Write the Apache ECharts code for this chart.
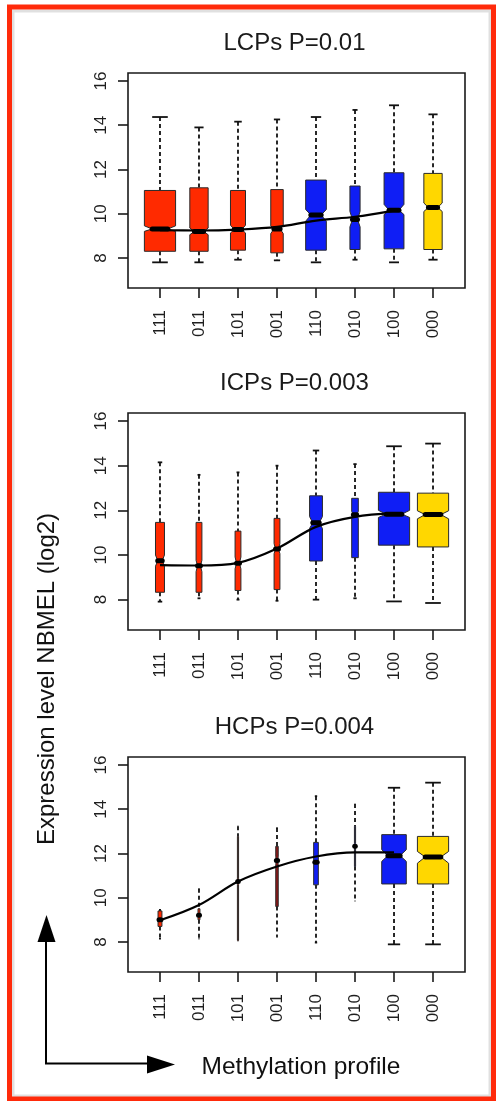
<!DOCTYPE html>
<html><head><meta charset="utf-8">
<script src="https://cdn.jsdelivr.net/npm/echarts@6/dist/echarts.min.js"></script>
<style>html,body{margin:0;padding:0;background:#fff}#c{width:496px;height:1101px}</style>
</head><body><div id="c"></div>
<script>
// ---------------- data ----------------
const categories = ["111","011","101","001","110","010","100","000"];
const yTicks = [8, 10, 12, 14, 16];
const panelTitles = ["LCPs P=0.01", "ICPs P=0.003", "HCPs P=0.004"];

// LCPs
const lcpWhiskerLow  = [7.80, 7.80, 7.92, 7.89, 7.80, 7.92, 7.80, 7.92];
const lcpQ1          = [8.30, 8.30, 8.35, 8.23, 8.35, 8.38, 8.41, 8.38];
const lcpNotchLow    = [9.20, 9.05, 9.13, 9.10, 9.66, 9.40, 9.96, 10.10];
const lcpMedian      = [9.31, 9.19, 9.28, 9.31, 9.94, 9.74, 10.16, 10.28];
const lcpNotchHigh   = [9.45, 9.35, 9.48, 9.45, 10.19, 10.10, 10.42, 10.48];
const lcpQ3          = [11.05, 11.17, 11.05, 11.09, 11.52, 11.25, 11.85, 11.82];
const lcpWhiskerHigh = [14.37, 13.90, 14.16, 14.26, 14.37, 14.69, 14.90, 14.49];
const lcpRelSize     = [1, 0.345, 0.232, 0.16, 0.439, 0.106, 0.406, 0.345];
const lcpTrend       = [9.25, 9.24, 9.28, 9.40, 9.69, 9.86, 10.14];

// ICPs
const icpWhiskerLow  = [7.91, 8.06, 8.00, 7.95, 8.00, 8.06, 7.92, 7.85];
const icpQ1          = [8.33, 8.33, 8.41, 8.45, 9.73, 9.88, 10.44, 10.36];
const icpNotchLow    = [9.50, 9.25, 9.38, 10.06, 11.19, 11.64, 11.68, 11.62];
const icpMedian      = [9.74, 9.52, 9.63, 10.27, 11.44, 11.80, 11.83, 11.81];
const icpNotchHigh   = [10.00, 9.76, 9.91, 10.51, 11.72, 11.95, 12.00, 11.98];
const icpQ3          = [11.46, 11.46, 11.07, 11.64, 12.65, 12.54, 12.81, 12.77];
const icpWhiskerHigh = [14.15, 13.59, 13.70, 14.00, 14.68, 14.07, 14.87, 14.99];
const icpRelSize     = [0.083, 0.035, 0.035, 0.035, 0.17, 0.045, 1, 1];
const icpTrend       = [9.55, 9.53, 9.65, 10.29, 11.26, 11.71, 11.86];

// HCPs
const hcpWhiskerLow  = [8.15, 8.15, 8.05, 8.23, 7.97, 9.85, 7.89, 7.89];
const hcpQ1          = [8.70, 9.00, 8.08, 9.60, 10.58, 11.41, 10.62, 10.62];
const hcpNotchLow    = [8.90, 9.10, 10.60, 11.50, 11.50, 12.20, 11.64, 11.56];
const hcpMedian      = [9.00, 9.20, 10.73, 11.68, 11.60, 12.32, 11.90, 11.84];
const hcpNotchHigh   = [9.10, 9.30, 10.85, 11.85, 11.70, 12.45, 12.17, 12.09];
const hcpQ3          = [9.40, 9.50, 12.77, 12.32, 12.50, 13.23, 12.85, 12.77];
const hcpWhiskerHigh = [9.45, 10.40, 13.23, 13.15, 14.59, 14.24, 14.97, 15.20];
const hcpRelSize     = [0.0156, 0.0039, 0.0014, 0.0064, 0.0225, 0.0014, 0.62, 1];
const hcpTrend       = [8.98, 9.67, 10.73, 11.41, 11.86, 12.05, 12.05];

// ---------------- styles ----------------
const RED = '#ff2a00', BLUE = '#0f1ef5', GOLD = '#ffd700', DKRED = '#8e1414';
const lcpColors = [RED, RED, RED, RED, BLUE, BLUE, BLUE, GOLD];
const icpColors = [RED, RED, RED, RED, BLUE, BLUE, BLUE, GOLD];
const hcpColors = [RED, RED, RED, DKRED, BLUE, BLUE, BLUE, GOLD];

const panels = [
  {title: panelTitles[0], wl: lcpWhiskerLow, q1: lcpQ1, nl: lcpNotchLow, md: lcpMedian, nh: lcpNotchHigh, q3: lcpQ3, wh: lcpWhiskerHigh, rs: lcpRelSize, tr: lcpTrend, colors: lcpColors, top: 73, height: 215},
  {title: panelTitles[1], wl: icpWhiskerLow, q1: icpQ1, nl: icpNotchLow, md: icpMedian, nh: icpNotchHigh, q3: icpQ3, wh: icpWhiskerHigh, rs: icpRelSize, tr: icpTrend, colors: icpColors, top: 413, height: 217},
  {title: panelTitles[2], wl: hcpWhiskerLow, q1: hcpQ1, nl: hcpNotchLow, md: hcpMedian, nh: hcpNotchHigh, q3: hcpQ3, wh: hcpWhiskerHigh, rs: hcpRelSize, tr: hcpTrend, colors: hcpColors, top: 757, height: 215}
];

const GRID_LEFT = 128, GRID_WIDTH = 337;
const FONT = '"Liberation Sans", Arial, Helvetica, sans-serif';

function makeRender(colors) {
  return function (params, api) {
    const x = api.value(0);
    const wLo = api.value(1), q1 = api.value(2), nLo = api.value(3), med = api.value(4),
          nHi = api.value(5), q3 = api.value(6), wHi = api.value(7), rel = api.value(8);
    const hw = 0.4 * Math.sqrt(rel);
    const P = (dx, v) => api.coord([x + dx, v]);
    const dash = {stroke: '#111', lineWidth: 1.8, lineDash: [4, 3]};
    const solid = {stroke: '#111', lineWidth: 1.8};
    const a = P(0, wHi), b = P(0, q3), c = P(0, q1), d = P(0, wLo);
    const s1 = P(-hw * 0.5, wHi), s2 = P(hw * 0.5, wHi), s3 = P(-hw * 0.5, wLo), s4 = P(hw * 0.5, wLo);
    const poly = [P(-hw, q1), P(hw, q1), P(hw, nLo), P(hw * 0.5, med), P(hw, nHi), P(hw, q3),
                  P(-hw, q3), P(-hw, nHi), P(-hw * 0.5, med), P(-hw, nLo)];
    const m1 = P(-hw * 0.5, med), m2 = P(hw * 0.5, med);
    return {type: 'group', children: [
      {type: 'line', shape: {x1: a[0], y1: a[1], x2: b[0], y2: b[1]}, style: dash},
      {type: 'line', shape: {x1: c[0], y1: c[1], x2: d[0], y2: d[1]}, style: dash},
      {type: 'line', shape: {x1: s1[0], y1: s1[1], x2: s2[0], y2: s2[1]}, style: solid},
      {type: 'line', shape: {x1: s3[0], y1: s3[1], x2: s4[0], y2: s4[1]}, style: solid},
      {type: 'polygon', shape: {points: poly}, style: {fill: colors[params.dataIndex], stroke: '#2a2a2a', lineWidth: 1}},
      {type: 'line', shape: {x1: m1[0], y1: m1[1], x2: m2[0], y2: m2[1]}, style: {stroke: '#000', lineWidth: 5, lineCap: 'round'}}
    ]};
  };
}

const grids = [], xAxes = [], yAxes = [], series = [], graphics = [];
const xTickValues = categories.map((_, i) => i + 1);

panels.forEach((p, i) => {
  grids.push({left: GRID_LEFT, top: p.top, width: GRID_WIDTH, height: p.height, show: true,
              borderColor: '#1a1a1a', borderWidth: 1.6, backgroundColor: 'transparent'});
  xAxes.push({
    type: 'value', gridIndex: i, min: 0.18, max: 8.82,
    axisLine: {show: false}, splitLine: {show: false},
    axisTick: {show: true, customValues: xTickValues, length: 10, lineStyle: {color: '#1a1a1a', width: 1.6}},
    axisLabel: {show: true, customValues: xTickValues, rotate: 90, margin: 22, fontSize: 17, color: '#1e1e1e',
                fontFamily: FONT, formatter: v => categories[Math.round(v) - 1]}
  });
  yAxes.push({
    type: 'value', gridIndex: i, min: 6.64, max: 16.36,
    axisLine: {show: false}, splitLine: {show: false},
    axisTick: {show: true, customValues: yTicks, length: 10, lineStyle: {color: '#1a1a1a', width: 1.6}},
    axisLabel: {show: true, customValues: yTicks, rotate: 90, margin: 18, fontSize: 17, color: '#1e1e1e', fontFamily: FONT}
  });
  series.push({
    type: 'custom', xAxisIndex: i, yAxisIndex: i, clip: false, silent: true,
    renderItem: makeRender(p.colors),
    encode: {x: 0, y: [1, 2, 3, 4, 5, 6, 7]},
    data: categories.map((_, k) => [k + 1, p.wl[k], p.q1[k], p.nl[k], p.md[k], p.nh[k], p.q3[k], p.wh[k], p.rs[k]]),
    z: 2
  });
  series.push({
    type: 'line', xAxisIndex: i, yAxisIndex: i, smooth: 0.35, showSymbol: false, silent: true,
    lineStyle: {color: '#000', width: 2.2},
    data: p.tr.map((v, k) => [k + 1, v]),
    z: 4
  });
  graphics.push({type: 'text', x: GRID_LEFT + GRID_WIDTH / 2 - 2, y: p.top - 30,
    style: {text: p.title, font: '24px ' + FONT, fill: '#1a1a1a', textAlign: 'center', textVerticalAlign: 'middle'}});
});

// axis titles and arrows
graphics.push({type: 'text', x: 47, y: 679, rotation: Math.PI / 2,
  style: {text: 'Expression level NBMEL (log2)', font: '24px ' + FONT, fill: '#111', textAlign: 'center', textVerticalAlign: 'middle'}});
graphics.push({type: 'text', x: 301, y: 1067,
  style: {text: 'Methylation profile', font: '24.5px ' + FONT, fill: '#111', textAlign: 'center', textVerticalAlign: 'middle'}});
graphics.push({type: 'polyline', shape: {points: [[46, 940], [46, 1063.5], [150, 1063.5]]}, style: {stroke: '#000', lineWidth: 2, fill: null}});
graphics.push({type: 'polygon', shape: {points: [[46.5, 915], [37.5, 942], [55.5, 942]]}, style: {fill: '#000'}});
graphics.push({type: 'polygon', shape: {points: [[175, 1064.5], [147, 1055.5], [147, 1073.5]]}, style: {fill: '#000'}});
// frame (with faint inner shadow)
graphics.push({type: 'rect', shape: {x: 13, y: 11, width: 477, height: 1085}, style: {fill: null, stroke: 'rgba(0,0,0,0.12)', lineWidth: 3}, z: 9});
graphics.push({type: 'rect', shape: {x: 9.5, y: 7, width: 484, height: 1092}, style: {fill: null, stroke: '#ff2a0a', lineWidth: 5}, z: 10});

const chart = echarts.init(document.getElementById('c'), null, {renderer: 'canvas'});
chart.setOption({
  animation: false,
  backgroundColor: '#fff',
  grid: grids, xAxis: xAxes, yAxis: yAxes, series: series,
  graphic: {elements: graphics}
});
</script>
</body></html>
